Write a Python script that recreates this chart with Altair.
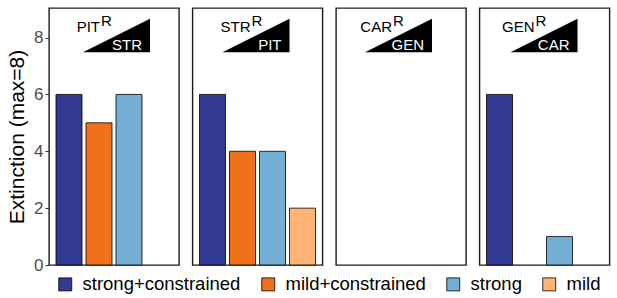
import altair as alt
import pandas as pd

# ---- data ----
panels = ["PIT", "STR", "CAR", "GEN"]
inner_labels = ["STR", "PIT", "GEN", "CAR"]
scenarios = ["strong+constrained", "mild+constrained", "strong", "mild"]
colors = ["#333A93", "#F1701C", "#75AED4", "#FDB475"]
values = {
    "PIT": [6, 5, 6, 0],
    "STR": [6, 4, 4, 2],
    "CAR": [0, 0, 0, 0],
    "GEN": [6, 0, 1, 0],
}
y_ticks = [0, 2, 4, 6, 8]

# ---- layout / style (not data) ----
PW, PH = 130, 257
FONT = "Liberation Sans"
junction = [51, 58, 56, 55]      # where the main label ends and the superscript R starts
tri_right = [101, 97, 96, 98]    # right edge of the black triangle in each panel
TRI_W = 67

color_enc = alt.Color(
    "scenario:N",
    scale=alt.Scale(domain=scenarios, range=colors),
    legend=alt.Legend(
        orient="none", direction="horizontal", columns=4, title=None,
        legendX=7, legendY=267,
        symbolType="square", symbolSize=169, symbolStrokeColor="black",
        symbolStrokeWidth=0.8, symbolOpacity=1,
        labelFontSize=18.5, labelFont=FONT, labelColor="black", labelLimit=300,
        labelOffset=8, columnPadding=18,
    ),
)

charts = []
for i, p in enumerate(panels):
    df = pd.DataFrame({"scenario": scenarios, "value": values[p]})
    yaxis = (
        alt.Axis(values=y_ticks, title="Extinction (max=8)", grid=False, domain=False,
                 tickSize=4, tickColor="#333333", labelColor="#4D4D4D", labelFontSize=17,
                 labelFont=FONT, labelPadding=2, titleFont=FONT, titleFontSize=21,
                 titleFontWeight="normal", titleColor="black", titlePadding=6)
        if i == 0 else None
    )
    bars = (
        alt.Chart(df)
        .transform_filter("datum.value > 0")
        .mark_bar(stroke="black", strokeWidth=0.8)
        .encode(
            x=alt.X("scenario:N", scale=alt.Scale(domain=scenarios, paddingInner=0.133,
                                                  paddingOuter=0.233), axis=None),
            y=alt.Y("value:Q", scale=alt.Scale(domain=[0, 9.04], nice=False), axis=yaxis),
            color=color_enc,
        )
    )
    tri = (
        alt.Chart(pd.DataFrame({"k": [p]}))
        .mark_point(shape="M -1 0.5 L 1 0.5 L 1 -0.5 Z", filled=True, color="black",
                    opacity=1, size=TRI_W * TRI_W, strokeWidth=0)
        .encode(x=alt.value(tri_right[i] - TRI_W / 2), y=alt.value(27.5))
    )
    main = (
        alt.Chart(pd.DataFrame({"t": [p]}))
        .mark_text(align="right", baseline="alphabetic", font=FONT, fontSize=15, color="black")
        .encode(text="t:N", x=alt.value(junction[i]), y=alt.value(23.5))
    )
    sup = (
        alt.Chart(pd.DataFrame({"t": ["R"]}))
        .mark_text(align="left", baseline="alphabetic", font=FONT, fontSize=15, color="black")
        .encode(text="t:N", x=alt.value(junction[i] + 1), y=alt.value(17.5))
    )
    inner = (
        alt.Chart(pd.DataFrame({"t": [inner_labels[i]]}))
        .mark_text(align="right", baseline="alphabetic", font=FONT, fontSize=15, color="white")
        .encode(text="t:N", x=alt.value(tri_right[i] - 8), y=alt.value(41.5))
    )
    charts.append(alt.layer(bars, tri, main, sup, inner).properties(width=PW, height=PH))

chart = (
    alt.hconcat(*charts, spacing=11.5)
    .properties(padding={"left": 5, "top": 7, "right": 0, "bottom": 0}, background="white")
    .configure_view(stroke="#1a1a1a", strokeWidth=1.4)
)

chart.save("out.html", embed_options={"renderer": "svg", "actions": False})
